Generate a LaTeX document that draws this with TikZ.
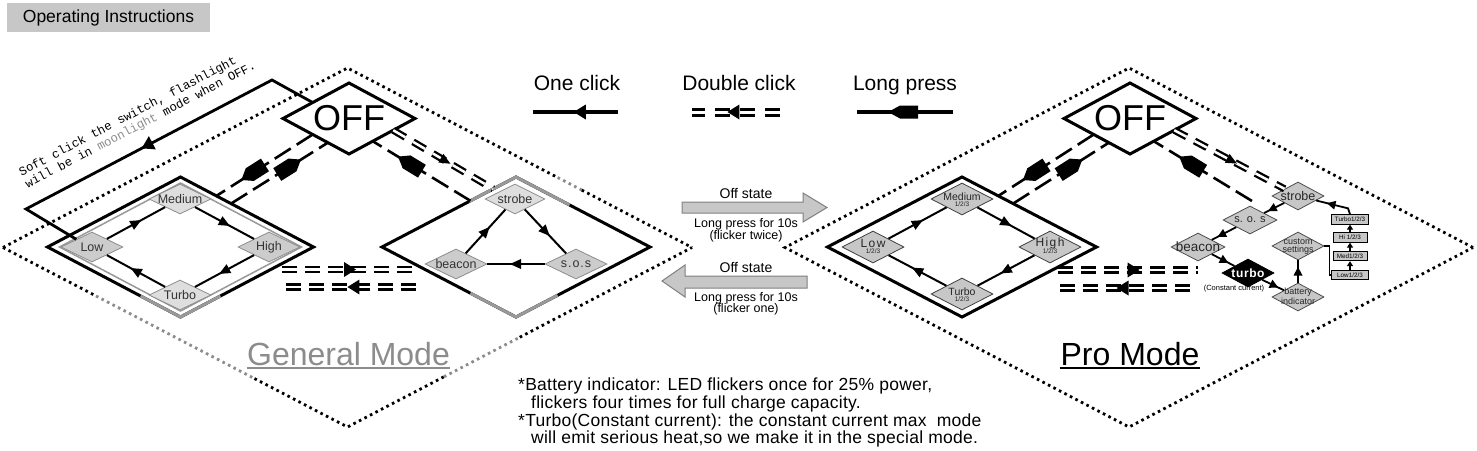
\documentclass[tikz,border=0pt]{standalone}
\usepackage{fontspec}
\setmainfont{Liberation Sans}
\newfontfamily\monofam{Liberation Mono}
\usetikzlibrary{shapes.geometric,decorations.markings,calc,arrows.meta}
\newcommand{\fs}[1]{\fontsize{#1}{#1}\selectfont}
\begin{document}
\begin{tikzpicture}[x=1pt,y=-1pt,
  dotline/.style={line width=2.8pt, dash pattern=on 2.6pt off 3.6pt},
  bigdia/.style={diamond, draw=black, line width=3pt, inner sep=0pt, outer sep=0pt, minimum width=266pt, minimum height=140pt},
  offdia/.style={diamond, draw=black, fill=white, line width=3pt, inner sep=0pt, outer sep=0pt, minimum width=132pt, minimum height=71pt, label={[font=\fs{36}, anchor=center, inner sep=0pt]center:OFF}},
  gnode/.style={diamond, draw=black!45, fill=black!20, line width=0.8pt, inner sep=0pt, minimum width=62pt, minimum height=30pt},
  glbl/.style={font=\fs{12.5}, text=black!80, anchor=center, inner sep=0pt},
  pnode/.style={diamond, draw=black!75, fill=black!22, line width=0.8pt, inner sep=0pt, minimum width=62pt, minimum height=32pt},
  plbl/.style={font=\fs{10.5}, text=black!85, anchor=center, inner sep=0pt},
  pwide/.style={font={\fs{12}\addfontfeature{LetterSpace=12}}, text=black!85, anchor=center, inner sep=0pt},
  psub/.style={font=\fs{6.5}, text=black!85, anchor=center, inner sep=0pt},
  cnode/.style={diamond, draw=black!70, fill=black!22, line width=0.8pt, inner sep=0pt, minimum width=52pt, minimum height=28pt},
  clbl/.style={font=\fs{12.5}, text=black!85, anchor=center, inner sep=0pt},
  slbl/.style={font=\fs{9}, text=black!85, anchor=center, inner sep=0pt},
  lvbox/.style={draw=black, fill=black!22, line width=0.8pt, inner sep=0pt, minimum height=9.5pt, font=\fs{6.3}},
  oc/.style={line width=2pt},
  lp/.style={line width=2.6pt, dash pattern=on 19pt off 7pt},
  dc/.style={line width=2.3pt, double=white, double distance=2.5pt, dash pattern=on 14pt off 9pt},
  midtri/.style={postaction={decorate}, decoration={markings, mark=at position #1 with {\fill[black] (6,0) -- (-5,5) -- (-5,-5) -- cycle;}}},
  bigtri/.style={postaction={decorate}, decoration={markings, mark=at position #1 with {\fill[black] (6,0) -- (-6,7.5) -- (-6,-7.5) -- cycle;}}},
  smalltri/.style={postaction={decorate}, decoration={markings, mark=at position #1 with {\fill[black] (4.5,0) -- (-4,4.5) -- (-4,-4.5) -- cycle;}}},
  midpenta/.style={postaction={decorate}, decoration={markings, mark=at position #1 with {\fill[black] (14,0) -- (4,-7.5) -- (-14,-7.5) -- (-14,7.5) -- (4,7.5) -- cycle;}}},
  legpenta/.style={postaction={decorate}, decoration={markings, mark=at position #1 with {\fill[black] (15,0) -- (3,-6.5) -- (-15,-6.5) -- (-15,6.5) -- (3,6.5) -- cycle;}}},
  garrow/.style={fill=black!22, draw=black!50, line width=1pt},
  notetxt/.style={font={\fs{17.5}\addfontfeature{LetterSpace=1.5}}, anchor=base west, inner sep=0pt},
  midtxt/.style={font=\fs{12.5}, anchor=base, inner sep=0pt},
]
\useasboundingbox (0,0) rectangle (1477,450);

% title
\node[fill=black!22, minimum width=203pt, minimum height=29pt, inner sep=0pt, font=\fs{17.5}] (title) at (108.5,17.5) {Operating Instructions};

% dotted mode frames
\node[diamond, inner sep=0pt, outer sep=0pt, minimum width=689pt, minimum height=359pt] (gD) at (347.5,247.5) {};
\node[diamond, draw, dotline, inner sep=0pt, outer sep=0pt, minimum width=688pt, minimum height=359pt] (pD) at (1129,247.5) {};
\coordinate (gd1) at ($(gD.west)!0.27!(gD.south)$);
\coordinate (gd2) at ($(gD.west)!0.73!(gD.south)$);
\coordinate (gd3) at ($(gD.south)!0.28!(gD.east)$);
\coordinate (gd4) at ($(gD.south)!0.5!(gD.east)$);
\coordinate (gd5) at ($(gD.north)!0.61!(gD.east)$);
\coordinate (gd6) at ($(gD.north)!0.68!(gD.east)$);
\draw[dotline] (gD.west) -- (gD.north) -- (gd5);
\draw[dotline, black!45] (gd5) -- (gd6);
\draw[dotline] (gd6) -- (gD.east);
\draw[dotline] (gD.west) -- (gd1);
\draw[dotline, black!45] (gd1) -- (gd2);
\draw[dotline] (gd2) -- (gD.south) -- (gd3);
\draw[dotline, black!45] (gd3) -- (gd4);
\draw[dotline] (gd4) -- (gD.east);

% big inner diamonds
\node[bigdia] (gIn) at (180.5,247) {};
\node[diamond, draw=black!40, line width=1.5pt, inner sep=0pt, outer sep=0pt, minimum width=242pt, minimum height=128pt] (gInG) at (180.5,247) {};
\draw[black!40, line width=3pt] ($(gIn.south)!0.3!(gIn.west)$) -- (gIn.south) -- ($(gIn.south)!0.3!(gIn.east)$);
\node[bigdia, minimum width=268pt] (gSp) at (516,247) {};
\draw[black!40, line width=3pt] ($(gSp.south)!0.34!(gSp.west)$) -- (gSp.south) -- ($(gSp.south)!0.31!(gSp.east)$);
\draw[black!40, line width=3pt] ($(gSp.north)!0.35!(gSp.west)$) -- (gSp.north) -- ($(gSp.north)!0.4!(gSp.east)$);
\node[bigdia, minimum width=269pt] (pIn) at (962,247) {};

% OFF
\node[offdia] (gOFF) at (349,118.5) {};
\node[offdia] (pOFF) at (1130,118.5) {};

% general mode nodes
\node[gnode, fill=black!13, label={[glbl]center:Medium}] (gMed) at (180,199) {};
\node[gnode, label={[glbl]center:Low}] (gLow) at (92,247) {};
\node[gnode, label={[glbl]center:High}] (gHigh) at (269,247) {};
\node[gnode, fill=black!13, label={[glbl]center:Turbo}] (gTur) at (180,295) {};
\node[gnode, fill=black!13, minimum width=60pt, label={[glbl]center:strobe}] (gStr) at (515,199) {};
\node[gnode, label={[glbl]center:beacon}] (gBea) at (456,264) {};
\node[gnode, label={[glbl, font={\fs{12.5}\addfontfeature{LetterSpace=8}}]center:s.o.s}] (gSos) at (576,264) {};

\draw[oc, midtri=0.5] (gLow) -- (gMed);
\draw[oc, midtri=0.5] (gMed) -- (gHigh);
\draw[oc, midtri=0.5] (gHigh) -- (gTur);
\draw[oc, midtri=0.5] (gTur) -- (gLow);
\draw[oc, midtri=0.5] (gBea) -- (gStr);
\draw[oc, midtri=0.5] (gStr) -- (gSos);
\draw[oc, midtri=0.5] (gSos) -- (gBea);

% pro mode nodes
\node[pnode, label={[plbl,yshift=2.5pt]center:Medium}, label={[psub,yshift=-5.5pt]center:1/2/3}] (pMed) at (962,199) {};
\node[pnode, label={[pwide,yshift=4pt]center:Low}, label={[psub,yshift=-4.5pt]center:1/2/3}] (pLow) at (873,247) {};
\node[pnode, label={[pwide,yshift=4pt]center:High}, label={[psub,yshift=-4.5pt]center:1/2/3}] (pHigh) at (1050,247) {};
\node[pnode, label={[plbl,yshift=2.5pt]center:Turbo}, label={[psub,yshift=-5.5pt]center:1/2/3}] (pTur) at (962,294) {};

\draw[oc, midtri=0.5] (pLow) -- (pMed);
\draw[oc, midtri=0.5] (pMed) -- (pHigh);
\draw[oc, midtri=0.5] (pHigh) -- (pTur);
\draw[oc, midtri=0.5] (pTur) -- (pLow);

% pro special cluster
\node[cnode, label={[clbl]center:strobe}] (pStr) at (1298,196) {};
\node[cnode, minimum width=54pt, label={[clbl, font=\fs{11}]center:s. o. s}] (pSos) at (1250,220) {};
\node[cnode, minimum width=54pt, label={[clbl, font=\fs{13.5}]center:beacon}] (pBea) at (1198,247) {};
\node[cnode, fill=black, draw=black, label={[clbl, font={\fs{12}\bfseries\addfontfeature{LetterSpace=5}}, text=white]center:turbo}] (pTrb) at (1248,273) {};
\node[cnode, label={[slbl,yshift=4.5pt]center:battery}, label={[slbl,yshift=-4pt]center:indicator}] (pBat) at (1298,297) {};
\node[cnode, label={[slbl,yshift=4.5pt]center:custom}, label={[slbl,yshift=-4pt]center:settings}] (pCus) at (1298,246) {};
\node[font=\fs{7.5}, inner sep=0pt] (cc) at (1234,288.5) {(Constant current)};

\node[lvbox, minimum width=37pt] (bxT) at (1350,219.5) {Turbo1/2/3};
\node[lvbox, minimum width=34pt] (bxH) at (1350,237.5) {Hi 1/2/3};
\node[lvbox, minimum width=34pt] (bxM) at (1350,256) {Med1/2/3};
\node[lvbox, minimum width=37pt] (bxL) at (1350,275) {Low1/2/3};

\draw[line width=1.8pt, smalltri=0.6] (pStr) -- (pSos);
\draw[line width=1.8pt, smalltri=0.6] (pSos) -- (pBea);
\draw[line width=1.8pt, smalltri=0.55] (pBea) -- (pTrb);
\draw[line width=1.8pt, smalltri=0.55] (pTrb) -- (pBat);
\draw[line width=1.8pt, smalltri=0.5] (pBat) -- (pCus);
\draw[line width=1.8pt] (pCus.east) -- ++(5,0) |- (bxL.west);
\draw[line width=1.6pt, -{Triangle[length=5pt,width=6pt]}] (bxL.north) -- (bxM.south);
\draw[line width=1.6pt, -{Triangle[length=5pt,width=6pt]}] (bxM.north) -- (bxH.south);
\draw[line width=1.6pt, -{Triangle[length=5pt,width=6pt]}] (bxH.north) -- (bxT.south);
\coordinate (tk) at ($(bxT.north)+(-2,-6)$);
\draw[line width=1.8pt, smalltri=0.6] (bxT.north) -- (tk) -- (pStr);

% soft click path
\coordinate (sc0) at ($(gOFF.west)!0.45!(gOFF.north)$);
\coordinate (sc1) at (272,80);
\coordinate (sc2) at (26,209);
\coordinate (sc3) at ($(gLow.west)!0.5!(gLow.north)$);
\draw[line width=2.8pt, line join=miter, bigtri=0.49] (sc0) -- (sc1) -- (sc2) -- (sc3);
\node[font={\monofam\fontsize{12.3}{13.4}\selectfont}, rotate=27.7, anchor=west, align=left, inner sep=0pt] (sct) at (23,179.6) {Soft click the switch, flashlight\\will be in \textcolor{black!45}{moonlight} mode when OFF.};

% general: OFF <-> Medium (long press)
\coordinate (gA1) at ($(gOFF.west)!0.45!(gOFF.south)$);
\coordinate (gB1) at ($(gIn.north)!0.27!(gIn.east)$);
\coordinate (gA2) at ($(gOFF.west)!0.68!(gOFF.south)$);
\coordinate (gB2) at ($(gIn.north)!0.38!(gIn.east)$);
\draw[lp, midpenta=0.62] (gA1) -- (gB1);
\draw[lp, midpenta=0.6] (gB2) -- (gA2);
% general: OFF <-> strobe
\coordinate (gC1) at ($(gOFF.east)!0.33!(gOFF.south)$);
\coordinate (gE1) at ($(gSp.north)!0.17!(gSp.west)$);
\coordinate (gC2) at ($(gOFF.east)!0.64!(gOFF.south)$);
\coordinate (gE2) at ($(gSp.north)!0.34!(gSp.west)$);
\draw[dc, midtri=0.52] (gC1) -- (gE1);
\draw[lp, midpenta=0.62] (gE2) -- (gC2);
% general rows
\coordinate (gR1a) at (282,269.5); \coordinate (gR1b) at (418,269.5);
\coordinate (gR2a) at (416,287); \coordinate (gR2b) at (280,287);
\draw[dc, dash pattern=on 15pt off 8pt, bigtri=0.5] (gR1a) -- (gR1b);
\draw[dc, dash pattern=on 15pt off 8pt, bigtri=0.46] (gR2a) -- (gR2b);

% pro: OFF <-> Medium
\coordinate (pA1) at ($(pOFF.west)!0.45!(pOFF.south)$);
\coordinate (pB1) at ($(pIn.north)!0.27!(pIn.east)$);
\coordinate (pA2) at ($(pOFF.west)!0.68!(pOFF.south)$);
\coordinate (pB2) at ($(pIn.north)!0.38!(pIn.east)$);
\draw[lp, midpenta=0.62] (pA1) -- (pB1);
\draw[lp, midpenta=0.6] (pB2) -- (pA2);
% pro: OFF <-> strobe
\coordinate (pC1) at ($(pOFF.east)!0.33!(pOFF.south)$);
\coordinate (pC2) at ($(pOFF.east)!0.64!(pOFF.south)$);
\coordinate (pE2) at (1252,201);
\draw[dc, midtri=0.52] (pC1) -- (pStr);
\draw[lp, midpenta=0.62] (pE2) -- (pC2);
% pro rows
\coordinate (pR1a) at (1058,270); \coordinate (pR1b) at (1198,270);
\coordinate (pR2a) at (1190,288); \coordinate (pR2b) at (1055,288);
\draw[dc, dash pattern=on 15pt off 8pt, bigtri=0.54] (pR1a) -- (pR1b);
\draw[dc, dash pattern=on 15pt off 8pt, bigtri=0.5] (pR2a) -- (pR2b);

% legend
\node[font=\fs{21}, anchor=base, inner sep=0pt] (l1) at (577,90.5) {One click};
\node[font=\fs{21}, anchor=base, inner sep=0pt] (l2) at (739,90.5) {Double click};
\node[font=\fs{21}, anchor=base, inner sep=0pt] (l3) at (905,90.5) {Long press};
\coordinate (l1a) at (618,112); \coordinate (l1b) at (533,112);
\draw[line width=3.5pt, bigtri=0.45] (l1a) -- (l1b);
\coordinate (l2a) at (780,112); \coordinate (l2b) at (692,112);
\draw[line width=3pt, double=white, double distance=3pt, dash pattern=on 15pt off 10pt, bigtri=0.53] (l2a) -- (l2b);
\coordinate (l3a) at (953,112); \coordinate (l3b) at (857,112);
\draw[line width=3.5pt, legpenta=0.52] (l3a) -- (l3b);

% middle transfer arrows
\draw[garrow] (682,202) -- (803,202) -- (803,193) -- (827,207.5) -- (803,222) -- (803,213) -- (682,213) -- cycle;
\draw[garrow] (662,281) -- (685,265) -- (685,276) -- (807,276) -- (807,288) -- (685,288) -- (685,297) -- cycle;
\node[midtxt, font=\fs{14}] (os1) at (746,198) {Off state};
\node[midtxt] (lpa) at (746,227) {Long press for 10s};
\node[midtxt] (fla) at (746,239) {(flicker twice)};
\node[midtxt, font=\fs{14}] (os2) at (746,272) {Off state};
\node[midtxt] (lpb) at (746,301) {Long press for 10s};
\node[midtxt] (flb) at (746,312) {(flicker one)};

% mode titles
\node[font=\fs{32}, text=black!45, inner sep=0pt, anchor=base] (gm) at (348.5,365) {General Mode};
\draw[black!45, line width=1.6pt] ([yshift=-3pt]gm.base west) -- ([yshift=-3pt]gm.base east);
\node[font=\fs{32}, inner sep=0pt, anchor=base] (pm) at (1130,365) {Pro Mode};
\draw[line width=1.6pt] ([yshift=-3pt]pm.base west) -- ([yshift=-3pt]pm.base east);

% notes
\node[notetxt] (n1) at (518,390) {*Battery indicator: LED flickers once for 25\% power,};
\node[notetxt] (n2) at (531,408) {flickers four times for full charge capacity.};
\node[notetxt] (n3) at (518,426) {*Turbo(Constant current): the constant current max\ \ mode};
\node[notetxt] (n4) at (531,443) {will emit serious heat,so we make it in the special mode.};
\end{tikzpicture}
\end{document}
